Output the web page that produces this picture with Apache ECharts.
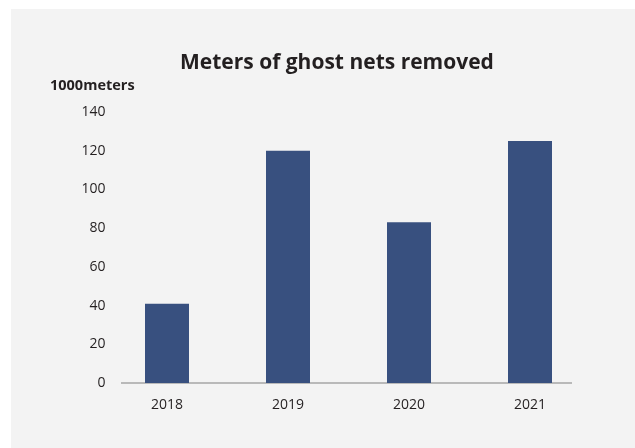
<!DOCTYPE html>
<html>
<head>
<meta charset="utf-8">
<script src="https://cdn.jsdelivr.net/npm/echarts@6/dist/echarts.min.js"></script>
<style>
html,body{margin:0;padding:0;background:#ffffff;}
#chart{position:absolute;left:11px;top:9px;width:624px;height:439px;background:#f3f3f3;}
</style>
</head>
<body>
<div id="chart"></div>
<script>
const categories = ['2018', '2019', '2020', '2021'];
const metersRemoved = [41, 120, 83, 125];
const yTicks = { min: 0, max: 140, interval: 20 };
const titleText = 'Meters of ghost nets removed';
const unitText = '1000meters';

const chart = echarts.init(document.getElementById('chart'), null, { renderer: 'canvas' });
const font = '"Open Sans", "Noto Sans", sans-serif';
chart.setOption({
  backgroundColor: '#f3f3f3',
  animation: false,
  title: [
    { text: titleText, left: 169, top: 44, padding: 0,
      textStyle: { fontFamily: font, fontSize: 21, fontWeight: 'bold', color: '#231f20' } },
    { text: unitText, left: 39, top: 69, padding: 0,
      textStyle: { fontFamily: font, fontSize: 14.5, fontWeight: 'bold', color: '#231f20' } }
  ],
  grid: { left: 95.5, right: 44.5, top: 103, bottom: 65, containLabel: false },
  xAxis: {
    type: 'category',
    data: categories,
    axisLine: { show: false },
    axisTick: { show: false },
    axisLabel: { margin: 15, fontFamily: font, fontSize: 14, color: '#231f20' }
  },
  yAxis: {
    type: 'value',
    min: yTicks.min, max: yTicks.max, interval: yTicks.interval,
    axisLine: { show: false },
    axisTick: { show: false },
    splitLine: { show: false },
    axisLabel: { margin: 1, fontFamily: font, fontSize: 14, color: '#231f20' }
  },
  graphic: [{
    type: 'line', silent: true,
    shape: { x1: 110, y1: 374, x2: 561, y2: 374 },
    style: { stroke: '#a6a6a6', lineWidth: 1.3 }
  }],
  series: [{
    type: 'bar',
    data: metersRemoved,
    barWidth: 44,
    itemStyle: { color: '#38507f' }
  }]
});
</script>
</body>
</html>
